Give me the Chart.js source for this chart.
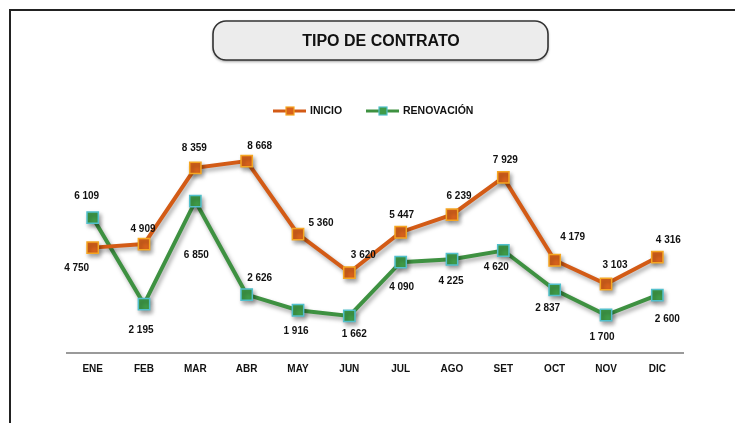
<!DOCTYPE html>
<html>
<head>
<meta charset="utf-8">
<script src="https://cdn.jsdelivr.net/npm/chart.js@4.4.1/dist/chart.umd.min.js"></script>
<style>
  html, body { margin: 0; padding: 0; background: #fff; }
  #wrap { position: relative; width: 735px; height: 423px; }
</style>
</head>
<body>
<div id="wrap"><canvas id="contratoChart" width="735" height="423"></canvas></div>
<script>
/* ---------------- Data ---------------- */
const months = ['ENE', 'FEB', 'MAR', 'ABR', 'MAY', 'JUN', 'JUL', 'AGO', 'SET', 'OCT', 'NOV', 'DIC'];
const inicio = [4750, 4909, 8359, 8668, 5360, 3620, 5447, 6239, 7929, 4179, 3103, 4316];
const renovacion = [6109, 2195, 6850, 2626, 1916, 1662, 4090, 4225, 4620, 2837, 1700, 2600];

// where each value label sits relative to its marker (dx, dy)
const inicioLabelPos = [[-16, 21], [-1, -15], [-1, -20], [13, -15], [23, -11], [14, -17],
                        [1, -17], [7, -18], [2, -17], [18, -23], [9, -19], [11, -17]];
const renovLabelPos = [[-6, -21], [-3, 26], [1, 54], [13, -16], [-2, 21], [5, 18],
                       [1, 25], [-1, 22], [-7, 17], [-7, 18], [-4, 22], [10, 24]];

const fmt = v => String(v).replace(/\B(?=(\d{3})+(?!\d))/g, ' ');

/* ---------------- Frame, title box and legend ---------------- */
const framePlugin = {
  id: 'frame',
  beforeDraw(chart) {
    const c = chart.ctx;
    c.save();
    // outer frame (top + left)
    c.strokeStyle = '#222';
    c.lineWidth = 2;
    c.beginPath();
    c.moveTo(10, 423);
    c.lineTo(10, 10);
    c.lineTo(735, 10);
    c.stroke();

    // rounded title box
    c.shadowColor = 'rgba(0,0,0,0.45)';
    c.shadowBlur = 3;
    c.shadowOffsetY = 1.5;
    c.beginPath();
    c.roundRect(213, 21, 335, 39, 13);
    c.fillStyle = '#ececec';
    c.fill();
    c.shadowColor = 'transparent';
    c.strokeStyle = '#333';
    c.lineWidth = 1.6;
    c.stroke();
    c.fillStyle = '#111';
    c.font = 'bold 16px "Liberation Sans", Arial, sans-serif';
    c.textAlign = 'center';
    c.textBaseline = 'middle';
    c.fillText('TIPO DE CONTRATO', 381, 42);

    // legend
    const items = [
      { text: 'INICIO', x: 273, ds: chart.data.datasets[0] },
      { text: 'RENOVACIÓN', x: 366, ds: chart.data.datasets[1] }
    ];
    c.font = 'bold 10.5px "Liberation Sans", Arial, sans-serif';
    c.textAlign = 'left';
    items.forEach(it => {
      c.strokeStyle = it.ds.borderColor;
      c.lineWidth = 3;
      c.beginPath();
      c.moveTo(it.x, 111);
      c.lineTo(it.x + 33, 111);
      c.stroke();
      c.fillStyle = it.ds.pointBackgroundColor;
      c.strokeStyle = it.ds.pointBorderColor;
      c.lineWidth = 1.2;
      c.fillRect(it.x + 13, 107, 8, 8);
      c.strokeRect(it.x + 13, 107, 8, 8);
      c.fillStyle = '#111';
      c.fillText(it.text, it.x + 37, 111.5);
    });
    c.restore();
  }
};

/* ---------------- Shadow under lines ---------------- */
const shadowPlugin = {
  id: 'lineShadow',
  beforeDatasetDraw(chart) {
    const c = chart.ctx;
    c.save();
    c.shadowColor = 'rgba(0,0,0,0.35)';
    c.shadowBlur = 4;
    c.shadowOffsetX = 2;
    c.shadowOffsetY = 3;
  },
  afterDatasetDraw(chart) {
    chart.ctx.restore();
  }
};

/* ---------------- Value labels ---------------- */
const valueLabels = {
  id: 'valueLabels',
  afterDatasetsDraw(chart) {
    const c = chart.ctx;
    const offsets = [inicioLabelPos, renovLabelPos];
    c.save();
    c.font = 'bold 10px "Liberation Sans", Arial, sans-serif';
    c.fillStyle = '#111';
    c.textAlign = 'center';
    c.textBaseline = 'middle';
    chart.data.datasets.forEach((ds, d) => {
      chart.getDatasetMeta(d).data.forEach((pt, i) => {
        const [dx, dy] = offsets[d][i];
        c.fillText(fmt(ds.data[i]), pt.x + dx, pt.y + dy);
      });
    });
    c.restore();
  }
};

/* ---------------- Chart ---------------- */
const ctx = document.getElementById('contratoChart').getContext('2d');
const contratoChart = new Chart(ctx, {
  type: 'line',
  data: {
    labels: months,
    datasets: [
      {
        label: 'INICIO',
        data: inicio,
        borderColor: '#d35b16',
        borderWidth: 4,
        pointStyle: 'rect',
        pointRadius: 8,
        pointBackgroundColor: '#d8621c',
        pointBorderColor: '#f5a623',
        pointBorderWidth: 1.5,
        tension: 0
      },
      {
        label: 'RENOVACIÓN',
        data: renovacion,
        borderColor: '#3e9141',
        borderWidth: 4,
        pointStyle: 'rect',
        pointRadius: 8,
        pointBackgroundColor: '#3f9b48',
        pointBorderColor: '#52c0cc',
        pointBorderWidth: 1.5,
        tension: 0
      }
    ]
  },
  options: {
    responsive: false,
    animation: false,
    layout: { padding: { left: 67, right: 52, top: 131.6, bottom: 40.4 } },
    plugins: {
      legend: { display: false },
      title: { display: false },
      tooltip: { enabled: false }
    },
    scales: {
      x: {
        offset: true,
        grid: { display: false, drawTicks: false },
        border: { display: true, color: '#9a9a9a', width: 2 },
        ticks: {
          color: '#111',
          padding: 11,
          font: { family: '"Liberation Sans", Arial, sans-serif', size: 10, weight: 'bold' }
        },
        afterFit(scale) { scale.height = 30; }
      },
      y: {
        display: false,
        min: 0,
        max: 10000
      }
    },
    clip: false
  },
  plugins: [framePlugin, shadowPlugin, valueLabels]
});
</script>
</body>
</html>
